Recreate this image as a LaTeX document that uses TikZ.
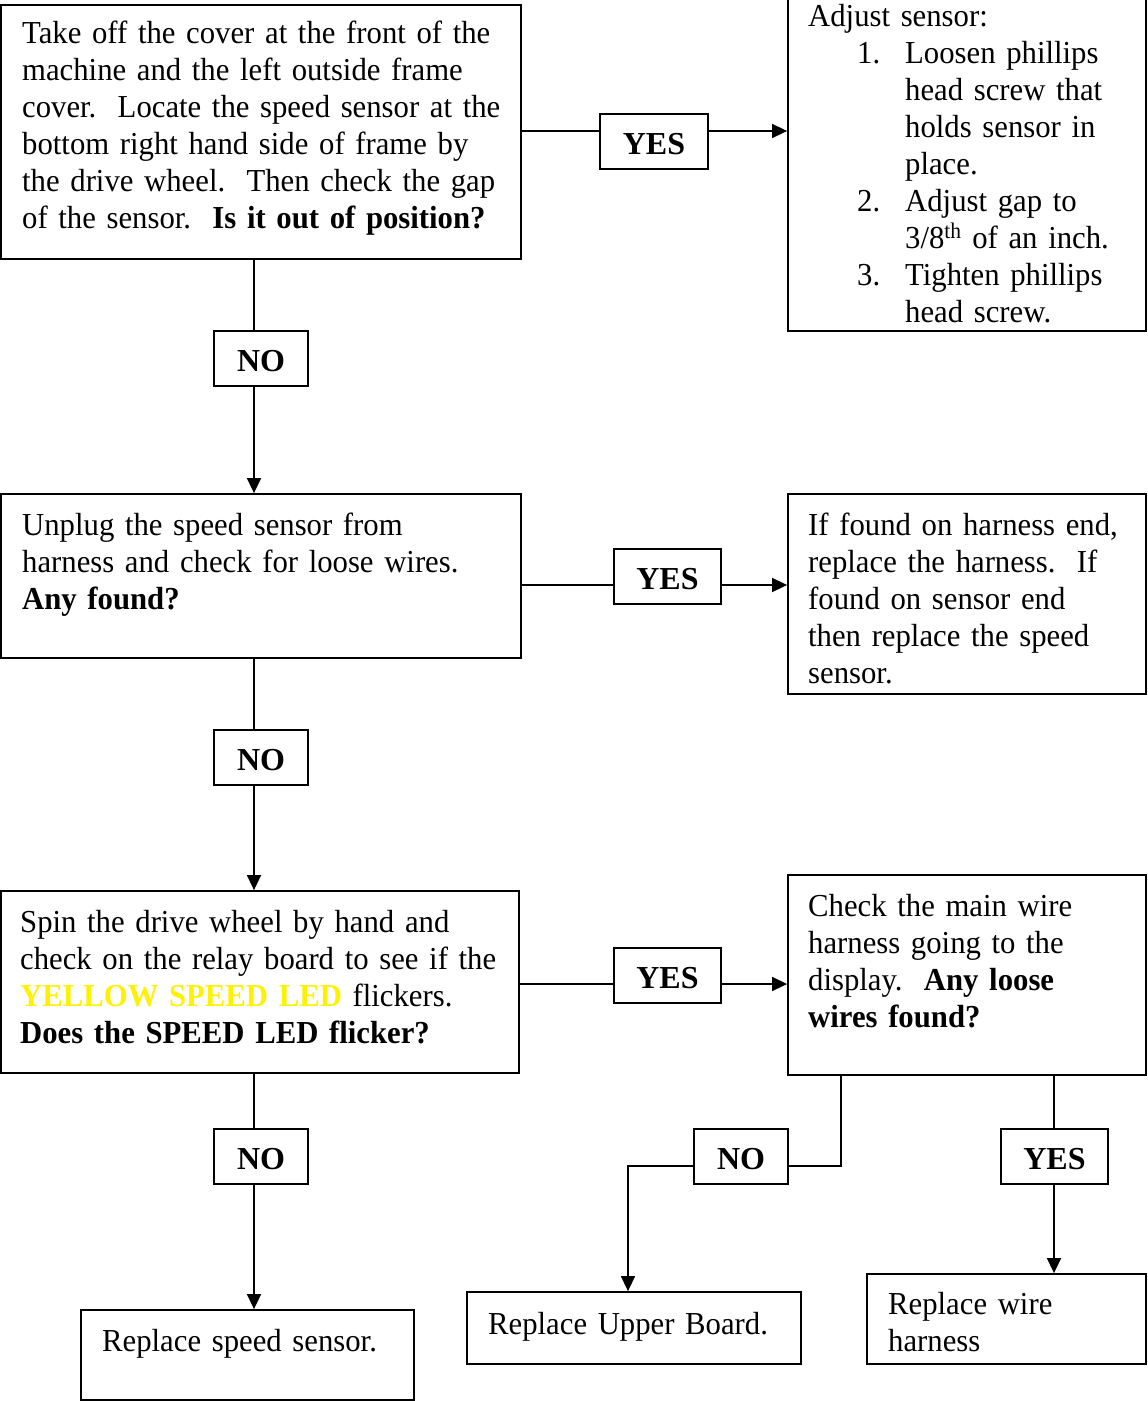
\documentclass[tikz,border=0pt]{standalone}
\usepackage{fontspec}
\setmainfont{Liberation Serif}[FakeStretch=0.96,WordSpace=0.8]
\newfontfamily\lblfont{Liberation Serif}
\usetikzlibrary{arrows.meta}
\begin{document}
\begin{tikzpicture}[x=1pt,y=-1pt,
  box/.style={draw, line width=1.8pt, inner sep=0pt},
  lbl/.style={draw, line width=1.6pt, inner sep=0pt, minimum height=55pt,
    text height=26pt, text depth=0pt,
    font=\lblfont\fontsize{32}{37}\selectfont\bfseries},
  txt/.style={inner sep=0pt, anchor=base west, align=left, text width=560pt,
    font=\fontsize{32}{37}\selectfont\frenchspacing},
  conn/.style={line width=1.5pt},
  arr/.style={line width=1.5pt, -{Triangle[length=15pt,width=14pt]}}]
\useasboundingbox (0,0) rectangle (1148,1401);
% boxes
\node[box, minimum width=520pt, minimum height=254pt] (b1) at (261,132) {};
\node[box, minimum width=358pt, minimum height=341pt] (b2) at (967,160.5) {};
\node[box, minimum width=520pt, minimum height=164pt] (b3) at (261,576) {};
\node[box, minimum width=358pt, minimum height=200pt] (b4) at (967,594) {};
\node[box, minimum width=518pt, minimum height=182pt] (b5) at (260,982) {};
\node[box, minimum width=358pt, minimum height=200pt] (b6) at (967,975) {};
\node[box, minimum width=333pt, minimum height=90pt] (b7) at (247.5,1355) {};
\node[box, minimum width=334pt, minimum height=72pt] (b8) at (634,1328) {};
\node[box, minimum width=279pt, minimum height=90pt] (b9) at (1006.5,1319) {};
% texts
\node[txt] (t1) at (22,43.5) {Take off the cover at the front of the\\
machine and the left outside frame\\
cover.~~Locate the speed sensor at the\\
bottom right hand side of frame by\\
the drive wheel.~~Then check the gap\\
of the sensor.~~\textbf{Is it out of position?}};
\node[txt] (t2) at (808,26) {Adjust sensor:\\
\hspace*{49pt}\makebox[48pt][l]{1.}Loosen phillips\\
\hspace*{97pt}head screw that\\
\hspace*{97pt}holds sensor in\\
\hspace*{97pt}place.\\
\hspace*{49pt}\makebox[48pt][l]{2.}Adjust gap to\\
\hspace*{97pt}3/8\textsuperscript{th} of an inch.\\
\hspace*{49pt}\makebox[48pt][l]{3.}Tighten phillips\\
\hspace*{97pt}head screw.};
\node[txt] (t3) at (22,535) {Unplug the speed sensor from\\
harness and check for loose wires.\\
\textbf{Any found?}};
\node[txt] (t4) at (808,535) {If found on harness end,\\
replace the harness.~~If\\
found on sensor end\\
then replace the speed\\
sensor.};
\node[txt] (t5) at (20,932) {Spin the drive wheel by hand and\\
check on the relay board to see if the\\
\textcolor{yellow}{\textbf{YELLOW SPEED LED}} flickers.\\
\textbf{Does the SPEED LED flicker?}};
\node[txt] (t6) at (808,916) {Check the main wire\\
harness going to the\\
display.~~\textbf{Any loose}\\
\textbf{wires found?}};
\node[txt] (t7) at (102,1351) {Replace speed sensor.};
\node[txt] (t8) at (488,1334) {Replace Upper Board.};
\node[txt] (t9) at (888,1314) {Replace wire\\ harness};
% labels
\node[lbl, minimum width=108pt] (y1) at (654,141.5) {YES};
\node[lbl, minimum width=94pt] (n1) at (261,358.5) {NO};
\node[lbl, minimum width=107pt] (y2) at (667.5,576.5) {YES};
\node[lbl, minimum width=94pt] (n2) at (261,757.5) {NO};
\node[lbl, minimum width=107pt] (y3) at (667.5,975.5) {YES};
\node[lbl, minimum width=94pt] (n3) at (261,1156.5) {NO};
\node[lbl, minimum width=94pt] (n4) at (741,1156.5) {NO};
\node[lbl, minimum width=107pt] (y4) at (1054.5,1156.5) {YES};
% connector guides
\coordinate (h1) at (0,131);
\coordinate (h2) at (0,585);
\coordinate (h3) at (0,984);
\coordinate (v1) at (254,0);
\coordinate (v4) at (841,1166);
\coordinate (v5) at (628,1166);
\coordinate (v6) at (1054,0);
% connectors
\draw[conn] (b1.east |- h1) -- (y1.west |- h1);
\draw[arr] (y1.east |- h1) -- (b2.west |- h1);
\draw[conn] (b1.south -| v1) -- (n1.north -| v1);
\draw[arr] (n1.south -| v1) -- (b3.north -| v1);
\draw[conn] (b3.east |- h2) -- (y2.west |- h2);
\draw[arr] (y2.east |- h2) -- (b4.west |- h2);
\draw[conn] (b3.south -| v1) -- (n2.north -| v1);
\draw[arr] (n2.south -| v1) -- (b5.north -| v1);
\draw[conn] (b5.east |- h3) -- (y3.west |- h3);
\draw[arr] (y3.east |- h3) -- (b6.west |- h3);
\draw[conn] (b5.south -| v1) -- (n3.north -| v1);
\draw[arr] (n3.south -| v1) -- (b7.north -| v1);
\draw[conn] (b6.south -| v4) |- (n4.east |- v4);
\draw[arr] (n4.west |- v5) -| (b8.north -| v5);
\draw[conn] (b6.south -| v6) -- (y4.north -| v6);
\draw[arr] (y4.south -| v6) -- (b9.north -| v6);
\end{tikzpicture}
\end{document}
